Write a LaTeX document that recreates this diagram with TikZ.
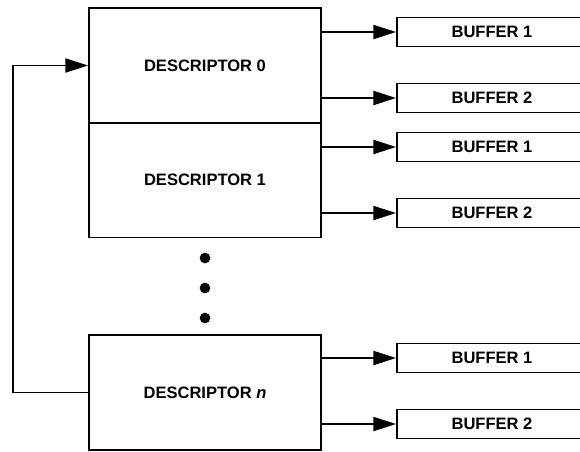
\documentclass[tikz,border=0pt]{standalone}
\usepackage{fontspec}
\setmainfont{Liberation Sans}
\usetikzlibrary{arrows.meta}
\tikzstyle{diagram} = [x = 0.75pt, y = -0.75pt, line width = 1.4pt, every node/.style={font=\fontsize{12.4}{14}\selectfont\bfseries}]
\tikzstyle{descriptorStyle} = [draw, inner sep = 0, minimum width = 174pt, minimum height = 86.25pt]
\tikzstyle{bufferStyle} = [draw, inner sep = 0, minimum width = 142.5pt, minimum height = 21.75pt]
\tikzstyle{linkArrow} = [-{Triangle[length = 17pt, width = 10.5pt]}]
\tikzstyle{dotStyle} = [circle, fill = black, inner sep = 0, minimum size = 8pt]
\newcommand{\descriptorBox}[3]{\node [descriptorStyle] (#1) at (205, #2) {#3};}
\newcommand{\bufferBox}[3]{\node [bufferStyle] (#1) at (492, #2) {#3};}
\newcommand{\bufferLink}[2]{\draw [linkArrow] (#1.east |- #2.west) -- (#2.west);}

\begin{document}
\begin{tikzpicture}[diagram]
            \useasboundingbox (0,0) rectangle (580,451);
            \clip (0,0) rectangle (580,451);

            \descriptorBox{descZero}{65.5}{DESCRIPTOR 0}
            \descriptorBox{descOne}{180}{DESCRIPTOR 1}
            \descriptorBox{descN}{392.5}{DESCRIPTOR \textit{n}}

            \bufferBox{bufZeroA}{32}{BUFFER 1}
            \bufferBox{bufZeroB}{98}{BUFFER 2}
            \bufferBox{bufOneA}{147}{BUFFER 1}
            \bufferBox{bufOneB}{213}{BUFFER 2}
            \bufferBox{bufNA}{358}{BUFFER 1}
            \bufferBox{bufNB}{424}{BUFFER 2}

            \bufferLink{descZero}{bufZeroA}
            \bufferLink{descZero}{bufZeroB}
            \bufferLink{descOne}{bufOneA}
            \bufferLink{descOne}{bufOneB}
            \bufferLink{descN}{bufNA}
            \bufferLink{descN}{bufNB}

            \foreach \dotY [count = \i] in {258, 288, 318} {
              \node [dotStyle] (dot\i) at (205, \dotY) {};
            }

            % wrap-around from the last descriptor back to the first
            \coordinate (loopCorner) at (13, 392.5);
            \draw [linkArrow] (descN.west) -- (loopCorner) |- (descZero.west);
          \end{tikzpicture}
\end{document}
